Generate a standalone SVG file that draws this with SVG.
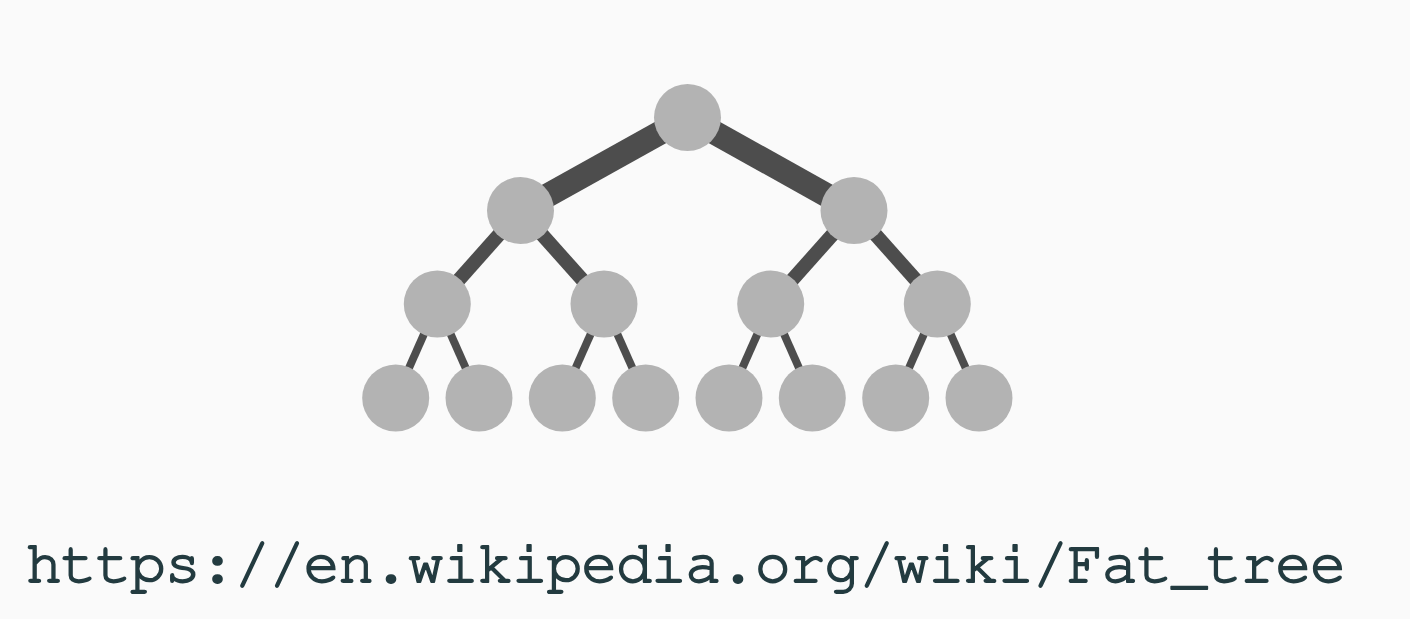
<svg xmlns="http://www.w3.org/2000/svg" width="1410" height="619" viewBox="0 0 1410 619">
<style>
.n{fill:#b3b3b3}
.e{stroke:#4d4d4d;stroke-linecap:butt;fill:none}
.e1{stroke-width:24}
.e2{stroke-width:14}
.e3{stroke-width:8}
.t{font-family:"Nimbus Mono PS","Nimbus Mono L","FreeMono","Courier 10 Pitch","Courier","Liberation Mono",monospace;font-size:60px;fill:#233b40;stroke:#233b40;stroke-width:1.8;stroke-linejoin:round}
</style>
<rect width="1410" height="619" fill="#fafafa"/>
<g id="connectors">
<line class="e e1" x1="687.5" y1="117.5" x2="520.5" y2="210.5"/>
<line class="e e1" x1="687.5" y1="117.5" x2="854" y2="210.5"/>
<line class="e e2" x1="520.5" y1="210.5" x2="437.3" y2="304"/>
<line class="e e2" x1="520.5" y1="210.5" x2="604" y2="304"/>
<line class="e e2" x1="854" y1="210.5" x2="770.7" y2="304"/>
<line class="e e2" x1="854" y1="210.5" x2="937.3" y2="304"/>
<line class="e e3" x1="437.3" y1="304" x2="395.7" y2="398"/>
<line class="e e3" x1="437.3" y1="304" x2="479" y2="398"/>
<line class="e e3" x1="604" y1="304" x2="562.3" y2="398"/>
<line class="e e3" x1="604" y1="304" x2="645.7" y2="398"/>
<line class="e e3" x1="770.7" y1="304" x2="729" y2="398"/>
<line class="e e3" x1="770.7" y1="304" x2="812.3" y2="398"/>
<line class="e e3" x1="937.3" y1="304" x2="895.7" y2="398"/>
<line class="e e3" x1="937.3" y1="304" x2="979" y2="398"/>
</g>
<g id="root"><circle class="n" cx="687.5" cy="117.5" r="33.5"/></g>
<g id="l2a"><circle class="n" cx="520.5" cy="210.5" r="33.5"/></g>
<g id="l2b"><circle class="n" cx="854" cy="210.5" r="33.5"/></g>
<g id="l3a"><circle class="n" cx="437.3" cy="304" r="33.5"/></g>
<g id="l3b"><circle class="n" cx="604" cy="304" r="33.5"/></g>
<g id="l3c"><circle class="n" cx="770.7" cy="304" r="33.5"/></g>
<g id="l3d"><circle class="n" cx="937.3" cy="304" r="33.5"/></g>
<g id="l4a"><circle class="n" cx="395.7" cy="398" r="33.5"/></g>
<g id="l4b"><circle class="n" cx="479" cy="398" r="33.5"/></g>
<g id="l4c"><circle class="n" cx="562.3" cy="398" r="33.5"/></g>
<g id="l4d"><circle class="n" cx="645.7" cy="398" r="33.5"/></g>
<g id="l4e"><circle class="n" cx="729" cy="398" r="33.5"/></g>
<g id="l4f"><circle class="n" cx="812.3" cy="398" r="33.5"/></g>
<g id="l4g"><circle class="n" cx="895.7" cy="398" r="33.5"/></g>
<g id="l4h"><circle class="n" cx="979" cy="398" r="33.5"/></g>
<g id="caption"><text class="t" x="686" y="582" text-anchor="middle" textLength="1320" lengthAdjust="spacing">https://en.wikipedia.org/wiki/Fat_tree</text></g>
</svg>
